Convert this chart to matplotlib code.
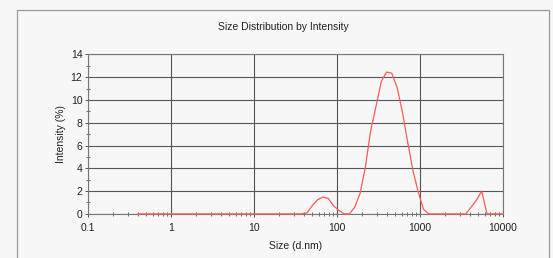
import matplotlib
matplotlib.use("Agg")
import matplotlib.pyplot as plt
from matplotlib.patches import Rectangle
from matplotlib.ticker import LogLocator, FixedLocator, NullFormatter

plt.rcParams['font.family'] = ['Liberation Sans', 'DejaVu Sans']

# size bins (d.nm) and intensity (%)
sizes = [0.4, 0.4632, 0.5364, 0.6212, 0.7194, 0.8331, 0.9648,
         1.117, 1.294, 1.498, 1.735, 2.009, 2.327, 2.695, 3.121, 3.614, 4.185,
         4.847, 5.613, 6.500, 7.527, 8.717,
         10.09, 11.69, 13.54, 15.68, 18.15, 21.02, 24.34, 28.19, 32.64, 37.80,
         43.78, 50.70, 58.71, 67.99, 78.74, 91.18,
         105.6, 122.3, 141.6, 164.0, 189.9, 219.9, 254.7, 294.9, 341.5, 395.5,
         458.0, 530.4, 614.2, 711.3, 823.7, 953.9,
         1105, 1279, 1481, 1715, 1986, 2300, 2664, 3085, 3572, 4137, 4791,
         5548, 6425, 7440, 8616, 10000]
intensity = [0, 0, 0, 0, 0, 0, 0,
             0, 0, 0, 0, 0, 0, 0, 0, 0, 0,
             0, 0, 0, 0, 0,
             0, 0, 0, 0, 0, 0, 0, 0, 0, 0,
             0.1, 0.75, 1.25, 1.48, 1.35, 0.7,
             0.3, 0.0, 0.0, 0.6, 1.8, 4.1, 7.3, 9.4, 11.6, 12.45,
             12.35, 11.1, 8.95, 6.3, 3.8, 1.9,
             0.4, 0, 0, 0, 0, 0, 0, 0, 0, 0.6, 1.2,
             2.0, 0, 0, 0, 0]

bg = '#f7f7f7'
fig = plt.figure(figsize=(5.53, 2.58), dpi=100, facecolor=bg)
ax = fig.add_axes([0.159, 0.171, 0.7505, 0.618], facecolor=bg)

ax.plot(sizes, intensity, color='#ff5a5a', lw=0.9, zorder=3, clip_on=False)

ax.set_xscale('log')
ax.set_xlim(0.1, 10000)
ax.set_ylim(0, 14)
ax.set_xticks([0.1, 1, 10, 100, 1000, 10000])
ax.set_xticklabels(['0.1', '1', '10', '100', '1000', '10000'])
ax.xaxis.set_minor_locator(LogLocator(base=10, subs=range(2, 10), numticks=20))
ax.xaxis.set_minor_formatter(NullFormatter())
ax.set_yticks(range(0, 15, 2))
ax.yaxis.set_minor_locator(FixedLocator(range(1, 14, 2)))

ax.grid(True, which='major', color='#555555', lw=0.8)
for s in ax.spines.values():
    s.set_color('#777777')
    s.set_linewidth(0.8)
ax.tick_params(which='both', direction='inout', colors='#555555',
               labelcolor='#222222', labelsize=7.5)
ax.tick_params(which='major', length=4, width=0.7, pad=2)
ax.tick_params(axis='x', which='major', pad=4.5)
ax.tick_params(which='minor', length=3, width=0.6)

ax.set_xlabel('Size (d.nm)', fontsize=7.5, color='#222222', labelpad=6)
ax.set_ylabel('Intensity (%)', fontsize=7.5, color='#222222', labelpad=3)
fig.text(0.512, 0.897, 'Size Distribution by Intensity', ha='center', va='center',
         fontsize=7.5, color='#222222')

# outer frame of the report panel
fig.patches.append(Rectangle((17 / 553, -0.1), (549 - 17) / 553, 1.1 - 10 / 258,
                             transform=fig.transFigure, fill=False,
                             edgecolor='#999999', lw=0.9))

fig.savefig('out.png', dpi=100, facecolor=bg)
